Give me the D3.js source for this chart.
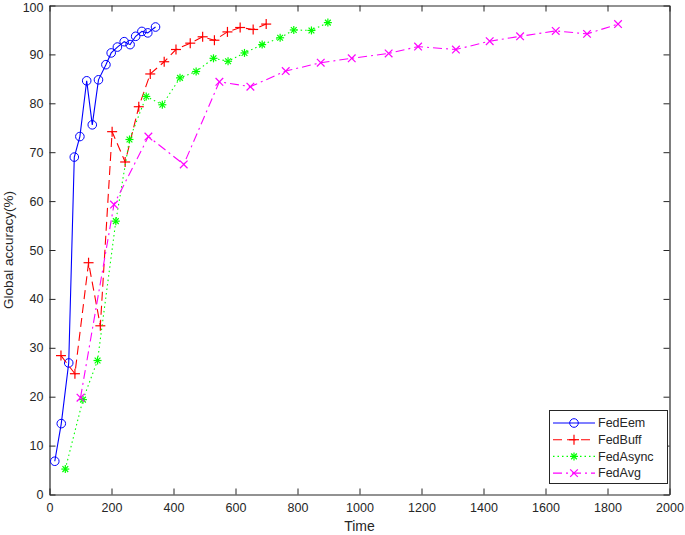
<!DOCTYPE html>
<html><head><meta charset="utf-8">
<script src="https://cdn.jsdelivr.net/npm/d3@7"></script>
<style>body{margin:0;background:#fff}svg{display:block}text{font-family:"Liberation Sans",Arial,sans-serif;fill:#262626}</style>
</head><body><svg id="c" width="685" height="535"></svg>
<script>
const xTicks=[0,200,400,600,800,1000,1200,1400,1600,1800,2000];
const yTicks=[0,10,20,30,40,50,60,70,80,90,100];
const seriesNames=["FedEem","FedBuff","FedAsync","FedAvg"];
const fedEemX=[17,38,62,80,98,120,138,158,182,199,219,241,260,278,298,317,342];
const fedEemY=[6.8,14.5,26.9,69.0,73.2,84.6,75.6,84.8,87.9,90.3,91.5,92.6,92.0,93.7,94.7,94.4,95.6];
const fedBuffX=[37,82,126,164,202,244,288,325,370,408,454,494,532,574,615,657,699];
const fedBuffY=[28.4,24.7,47.4,34.5,74.2,68.0,79.3,86.0,88.5,91.0,92.3,93.6,92.9,94.6,95.5,95.1,96.2];
const fedAsyncX=[51,108,155,214,258,312,364,421,473,529,576,629,686,744,788,845,898];
const fedAsyncY=[5.2,19.4,27.4,55.9,72.6,81.4,79.7,85.2,86.5,89.2,88.6,90.3,92.0,93.4,95.0,94.9,96.5];
const fedAvgX=[100,208,319,433,548,648,762,875,975,1094,1189,1311,1420,1518,1633,1734,1834];
const fedAvgY=[19.8,59.3,73.2,67.5,84.4,83.4,86.6,88.3,89.2,90.2,91.6,91.0,92.7,93.7,94.8,94.2,96.2];

const svg=d3.select("#c");
const L=49.5,R=669.5,T=5.5,B=494.5;
const x=d3.scaleLinear().domain([0,2000]).range([L,R]);
const y=d3.scaleLinear().domain([0,100]).range([B,T]);
const ax="#262626";
const fmt=d3.format("d");

const gB=svg.append("g").attr("transform",`translate(0,${B})`).call(d3.axisBottom(x).tickValues(xTicks).tickFormat(fmt).tickSizeInner(-6).tickSizeOuter(0).tickPadding(9));
const gT=svg.append("g").attr("transform",`translate(0,${T})`).call(d3.axisTop(x).tickValues(xTicks).tickSizeInner(-6).tickSizeOuter(0).tickFormat(""));
const gL=svg.append("g").attr("transform",`translate(${L},0)`).call(d3.axisLeft(y).tickValues(yTicks).tickFormat(fmt).tickSizeInner(-6).tickSizeOuter(0).tickPadding(6));
const gR=svg.append("g").attr("transform",`translate(${R},0)`).call(d3.axisRight(y).tickValues(yTicks).tickSizeInner(-6).tickSizeOuter(0).tickFormat(""));
[gB,gT,gL,gR].forEach(g=>{g.selectAll("path.domain").attr("stroke",ax).attr("stroke-width",1.2);g.selectAll("line").attr("stroke",ax).attr("stroke-width",1);g.selectAll("text").attr("font-size",12.5).attr("fill",ax).attr("font-family","Liberation Sans,Arial,sans-serif");});
gB.selectAll("text").attr("dy","0.71em");
gL.selectAll("text").filter(d=>d===100).attr("dy","0.45em");

svg.append("text").attr("x",(L+R)/2).attr("y",531).attr("text-anchor","middle").attr("font-size",14).text("Time");
svg.append("text").attr("transform",`translate(12.5,${(T+B)/2}) rotate(-90)`).attr("text-anchor","middle").attr("font-size",13.5).text("Global accuracy(%)");

const styles=[
 {xs:fedEemX,ys:fedEemY,c:"#0000ff",dash:null,m:"circle"},
 {xs:fedBuffX,ys:fedBuffY,c:"#ff0000",dash:"9,5",m:"plus"},
 {xs:fedAsyncX,ys:fedAsyncY,c:"#00ff00",dash:"1.5,3",m:"star"},
 {xs:fedAvgX,ys:fedAvgY,c:"#ff00ff",dash:"9,4,2,4",m:"cross"}
];
function marker(g,m,c,px,py){
  if(m==="circle"){g.append("circle").attr("cx",px).attr("cy",py).attr("r",4.3).attr("fill","none").attr("stroke",c).attr("stroke-width",1);}
  else{
    const s=m==="plus"?5:m==="star"?4:3.8;
    let segs=[];
    if(m==="plus"||m==="star")segs.push([-s,0,s,0],[0,-s,0,s]);
    if(m==="cross"||m==="star"){const d=m==="star"?s*0.72:s;segs.push([-d,-d,d,d],[-d,d,d,-d]);}
    segs.forEach(a=>g.append("line").attr("x1",px+a[0]).attr("y1",py+a[1]).attr("x2",px+a[2]).attr("y2",py+a[3]).attr("stroke",c).attr("stroke-width",1.2));
  }
}
const line=d3.line().x(d=>x(d[0])).y(d=>y(d[1]));
styles.forEach(s=>{
  const pts=s.xs.map((v,i)=>[v,s.ys[i]]);
  const g=svg.append("g");
  g.append("path").attr("d",line(pts)).attr("fill","none").attr("stroke",s.c).attr("stroke-width",1.1).attr("stroke-dasharray",s.dash);
  pts.forEach(p=>marker(g,s.m,s.c,x(p[0]),y(p[1])));
});

const lg=svg.append("g");
lg.append("rect").attr("x",549.5).attr("y",410.5).attr("width",118).attr("height",73).attr("fill","#fff").attr("stroke",ax).attr("stroke-width",1);
seriesNames.forEach((n,i)=>{
  const yy=423+i*16.7, s=styles[i];
  lg.append("line").attr("x1",553).attr("x2",595).attr("y1",yy).attr("y2",yy).attr("stroke",s.c).attr("stroke-width",1.1).attr("stroke-dasharray",s.dash);
  marker(lg,s.m,s.c,574,yy);
  lg.append("text").attr("x",598).attr("y",yy).attr("dy","0.35em").attr("font-size",12.5).text(n);
});
</script></body></html>
